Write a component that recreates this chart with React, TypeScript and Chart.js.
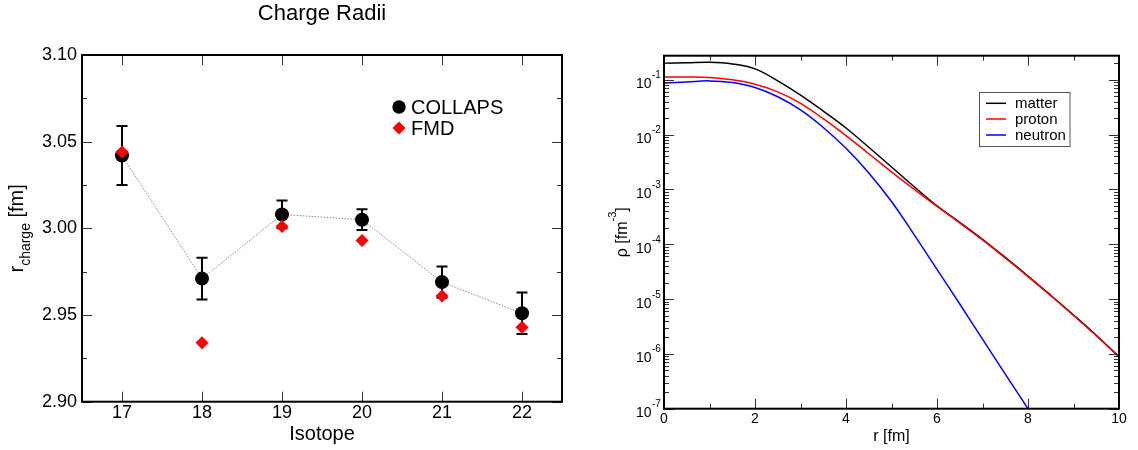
import React, { useEffect, useRef } from 'react';
import { Chart, registerables } from 'chart.js';

Chart.register(...registerables);

const FONT = "'Liberation Sans', Arial, Helvetica, sans-serif";

// ---- Left panel data: charge radii ----
const isotopes = [17, 18, 19, 20, 21, 22];
const collapsRadii = [3.042, 2.971, 3.008, 3.005, 2.969, 2.951];
const collapsErrors = [0.017, 0.012, 0.008, 0.006, 0.009, 0.012];
const fmdRadii = [3.044, 2.934, 3.001, 2.993, 2.961, 2.943];
const radiusTicks = [2.9, 2.95, 3.0, 3.05, 3.1];
const radiusMinorTicks = [2.925, 2.975, 3.025, 3.075];

// ---- Right panel data: densities ----
const rValues = [0, 0.5, 1, 1.5, 2, 2.5, 3, 3.5, 4, 4.5, 5, 5.5, 6, 6.5, 7, 7.5, 8, 8.5, 9, 9.5, 10];
const matterDensity = [0.2, 0.204, 0.209, 0.195, 0.158, 0.0955, 0.0525, 0.0269, 0.0132, 5.89e-3, 2.57e-3, 1.12e-3, 5.01e-4, 2.51e-4, 1.23e-4, 5.75e-5, 2.63e-5, 1.17e-5, 5.13e-6, 2.19e-6, 8.9e-7];
const protonDensity = [0.112, 0.112, 0.11, 0.1, 0.0832, 0.0603, 0.0372, 0.0195, 9.55e-3, 4.47e-3, 2.09e-3, 1.0e-3, 4.9e-4, 2.45e-4, 1.2e-4, 5.62e-5, 2.57e-5, 1.15e-5, 5.01e-6, 2.14e-6, 8.7e-7];
const neutronDensity = [0.0871, 0.0912, 0.0955, 0.0891, 0.0724, 0.049, 0.0282, 0.0135, 5.62e-3, 2.0e-3, 6.03e-4, 1.48e-4, 3.47e-5, 8.13e-6, 1.86e-6, 4.27e-7, 1.0e-7];
const decades = [-7, -6, -5, -4, -3, -2, -1];
const rMajorTicks = [0, 2, 4, 6, 8, 10];
const rMinorTicks = [1, 3, 5, 7, 9];

function drawFrame(ctx: CanvasRenderingContext2D, a: any) {
  ctx.save();
  ctx.strokeStyle = '#000';
  ctx.lineWidth = 2;
  ctx.strokeRect(a.left, a.top, a.right - a.left, a.bottom - a.top);
  ctx.restore();
}

function yTick(ctx: CanvasRenderingContext2D, a: any, py: number, len: number) {
  const y = Math.round(py) + 0.5;
  ctx.moveTo(a.left, y); ctx.lineTo(a.left + len, y);
  ctx.moveTo(a.right, y); ctx.lineTo(a.right - len, y);
}

function xTick(ctx: CanvasRenderingContext2D, a: any, px: number, len: number) {
  const x = Math.round(px) + 0.5;
  ctx.moveTo(x, a.top); ctx.lineTo(x, a.top + len);
  ctx.moveTo(x, a.bottom); ctx.lineTo(x, a.bottom - len);
}

const leftPlugin = {
  id: 'leftDecor',
  beforeDatasetsDraw(chart: any) {
    const { ctx, scales } = chart;
    const xs = scales.x, ys = scales.y;
    ctx.save();
    ctx.strokeStyle = '#000';
    ctx.lineWidth = 2;
    ctx.beginPath();
    isotopes.forEach((iso, i) => {
      const x = xs.getPixelForValue(iso);
      const yt = ys.getPixelForValue(collapsRadii[i] + collapsErrors[i]);
      const yb = ys.getPixelForValue(collapsRadii[i] - collapsErrors[i]);
      ctx.moveTo(x, yt); ctx.lineTo(x, yb);
      ctx.moveTo(x - 5.5, yt); ctx.lineTo(x + 5.5, yt);
      ctx.moveTo(x - 5.5, yb); ctx.lineTo(x + 5.5, yb);
    });
    ctx.stroke();
    ctx.restore();
  },
  afterDraw(chart: any) {
    const { ctx, scales, chartArea: a } = chart;
    const xs = scales.x, ys = scales.y;
    ctx.save();
    ctx.strokeStyle = '#333';
    ctx.lineWidth = 1;
    ctx.beginPath();
    radiusTicks.forEach(v => yTick(ctx, a, ys.getPixelForValue(v), 10));
    radiusMinorTicks.forEach(v => yTick(ctx, a, ys.getPixelForValue(v), 5));
    isotopes.forEach(v => xTick(ctx, a, xs.getPixelForValue(v), 10));
    ctx.stroke();
    ctx.restore();
    drawFrame(ctx, a);

    ctx.save();
    ctx.fillStyle = '#000';
    ctx.font = `22px ${FONT}`;
    ctx.textAlign = 'center';
    ctx.textBaseline = 'middle';
    ctx.fillText('Charge Radii', (a.left + a.right) / 2, 14);

    ctx.translate(22.7, (a.top + a.bottom) / 2);
    ctx.rotate(-Math.PI / 2);
    ctx.textAlign = 'left';
    ctx.textBaseline = 'alphabetic';
    const mainFont = `20px ${FONT}`, subFont = `14px ${FONT}`;
    ctx.font = mainFont; const w1 = ctx.measureText('r').width; const w3 = ctx.measureText(' [fm]').width;
    ctx.font = subFont; const w2 = ctx.measureText('charge').width;
    let x0 = -(w1 + w2 + w3) / 2;
    ctx.font = mainFont; ctx.fillText('r', x0, 0); x0 += w1;
    ctx.font = subFont; ctx.fillText('charge', x0, 6.8); x0 += w2;
    ctx.font = mainFont; ctx.fillText(' [fm]', x0, 0);
    ctx.restore();

    ctx.save();
    ctx.fillStyle = '#000';
    ctx.beginPath();
    ctx.arc(399, 107, 6.7, 0, Math.PI * 2);
    ctx.fill();
    ctx.fillStyle = '#ff0000';
    ctx.beginPath();
    ctx.moveTo(399, 121.5); ctx.lineTo(405.5, 128); ctx.lineTo(399, 134.5); ctx.lineTo(392.5, 128);
    ctx.closePath();
    ctx.fill();
    ctx.fillStyle = '#000';
    ctx.font = `20px ${FONT}`;
    ctx.textAlign = 'left';
    ctx.textBaseline = 'middle';
    const ds = chart.data.datasets;
    ctx.fillText(ds[1].label, 411, 108);
    ctx.fillText(ds[0].label, 411, 129);
    ctx.restore();
  }
};

const rightPlugin = {
  id: 'rightDecor',
  afterDraw(chart: any) {
    const { ctx, scales, chartArea: a } = chart;
    const xs = scales.x, ys = scales.y;
    const ymax = ys.max;
    ctx.save();
    ctx.strokeStyle = '#333';
    ctx.lineWidth = 1;
    ctx.beginPath();
    decades.forEach(d => {
      yTick(ctx, a, ys.getPixelForValue(Math.pow(10, d)), 10);
      for (let m = 2; m <= 9; m++) {
        const v = m * Math.pow(10, d);
        if (v <= ymax) yTick(ctx, a, ys.getPixelForValue(v), 5);
      }
    });
    rMajorTicks.forEach(v => xTick(ctx, a, xs.getPixelForValue(v), 10));
    rMinorTicks.forEach(v => xTick(ctx, a, xs.getPixelForValue(v), 5));
    ctx.stroke();
    ctx.restore();
    drawFrame(ctx, a);

    ctx.save();
    ctx.fillStyle = '#000';
    ctx.textBaseline = 'alphabetic';
    decades.forEach(d => {
      const y = ys.getPixelForValue(Math.pow(10, d));
      ctx.font = `14px ${FONT}`;
      ctx.textAlign = 'right';
      ctx.fillText('10', 71.5, y + 8.5);
      ctx.font = `10px ${FONT}`;
      ctx.textAlign = 'left';
      ctx.fillText(String(d), 72, y - 1.5);
    });

    ctx.translate(46.5, (a.top + a.bottom) / 2);
    ctx.rotate(-Math.PI / 2);
    const mainFont = `16px ${FONT}`, supFont = `11px ${FONT}`;
    ctx.font = mainFont; const w1 = ctx.measureText('ρ [fm').width; const w3 = ctx.measureText(']').width;
    ctx.font = supFont; const w2 = ctx.measureText('-3').width;
    let x0 = -(w1 + w2 + w3) / 2;
    ctx.font = mainFont; ctx.fillText('ρ [fm', x0, 0); x0 += w1;
    ctx.font = supFont; ctx.fillText('-3', x0, -11); x0 += w2;
    ctx.font = mainFont; ctx.fillText(']', x0, 0);
    ctx.restore();

    ctx.save();
    ctx.strokeStyle = '#555';
    ctx.lineWidth = 1;
    ctx.strokeRect(399.5, 92.5, 90.5, 54);
    const rows = [103.3, 119, 135];
    ctx.font = `15px ${FONT}`;
    ctx.textAlign = 'left';
    ctx.textBaseline = 'middle';
    chart.data.datasets.forEach((ds: any, i: number) => {
      ctx.strokeStyle = ds.borderColor;
      ctx.lineWidth = 1.5;
      ctx.beginPath();
      ctx.moveTo(406, rows[i]); ctx.lineTo(426, rows[i]);
      ctx.stroke();
      ctx.fillStyle = '#000';
      ctx.fillText(ds.label, 435, rows[i] + 0.5);
    });
    ctx.restore();
  }
};

function LeftChart() {
  const ref = useRef<HTMLCanvasElement>(null);
  useEffect(() => {
    const chart = new Chart(ref.current as HTMLCanvasElement, {
      type: 'scatter',
      data: {
        datasets: [
          {
            label: 'FMD',
            data: isotopes.map((x, i) => ({ x, y: fmdRadii[i] })),
            pointStyle: 'rectRot',
            pointRadius: 6.5,
            backgroundColor: '#ff0000',
            borderColor: '#ff0000',
            borderWidth: 0,
            showLine: false,
            order: 0,
          },
          {
            label: 'COLLAPS',
            data: isotopes.map((x, i) => ({ x, y: collapsRadii[i] })),
            pointStyle: 'circle',
            pointRadius: 7,
            pointBackgroundColor: '#000',
            pointBorderWidth: 0,
            borderColor: '#888',
            borderWidth: 1,
            borderDash: [1.5, 1.5],
            showLine: true,
            order: 1,
          },
        ],
      },
      options: {
        animation: false,
        responsive: false,
        events: [],
        layout: { padding: { top: 55, right: 18, left: 0, bottom: 0 } },
        plugins: { legend: { display: false }, tooltip: { enabled: false }, title: { display: false } },
        scales: {
          x: {
            type: 'linear',
            min: 16.5,
            max: 22.5,
            afterBuildTicks: (s: any) => { s.ticks = isotopes.map(v => ({ value: v })); },
            afterFit: (s: any) => { s.height = 48.3; },
            grid: { display: false, drawTicks: false },
            border: { display: false },
            ticks: { color: '#000', font: { family: FONT, size: 18 }, padding: 1, maxRotation: 0 },
            title: { display: true, text: 'Isotope', color: '#000', font: { family: FONT, size: 20 }, padding: { top: 0, bottom: 4 } },
          },
          y: {
            type: 'linear',
            min: 2.9,
            max: 3.1,
            afterBuildTicks: (s: any) => { s.ticks = radiusTicks.map(v => ({ value: v })); },
            afterFit: (s: any) => { s.width = 82; },
            grid: { display: false, drawTicks: false },
            border: { display: false },
            ticks: { color: '#000', font: { family: FONT, size: 18 }, padding: 5, callback: (v: any) => Number(v).toFixed(2) },
          },
        },
      },
      plugins: [leftPlugin],
    } as any);
    return () => chart.destroy();
  }, []);
  return <canvas ref={ref} width={580} height={450} style={{ position: 'absolute', left: 0, top: 0 }} />;
}

function RightChart() {
  const ref = useRef<HTMLCanvasElement>(null);
  useEffect(() => {
    const line = (label: string, ys: number[], color: string, order: number) => ({
      label,
      data: ys.map((y, i) => ({ x: rValues[i], y })),
      borderColor: color,
      backgroundColor: color,
      borderWidth: 1.5,
      pointRadius: 0,
      tension: 0.4,
      fill: false,
      order,
    });
    const chart = new Chart(ref.current as HTMLCanvasElement, {
      type: 'line',
      data: {
        datasets: [
          line('matter', matterDensity, '#000000', 1),
          line('proton', protonDensity, '#ff0000', 0),
          line('neutron', neutronDensity, '#0000ff', 2),
        ],
      },
      options: {
        animation: false,
        responsive: false,
        events: [],
        layout: { padding: { top: 55.7, right: 19, left: 0, bottom: 0 } },
        plugins: { legend: { display: false }, tooltip: { enabled: false }, title: { display: false } },
        scales: {
          x: {
            type: 'linear',
            min: 0,
            max: 10,
            afterBuildTicks: (s: any) => { s.ticks = rMajorTicks.map(v => ({ value: v })); },
            afterFit: (s: any) => { s.height = 41.3; },
            grid: { display: false, drawTicks: false },
            border: { display: false },
            ticks: { color: '#000', font: { family: FONT, size: 14 }, padding: 2, maxRotation: 0 },
            title: { display: true, text: 'r [fm]', color: '#000', font: { family: FONT, size: 16 }, padding: { top: 0, bottom: 3.4 } },
          },
          y: {
            type: 'logarithmic',
            min: 1e-7,
            max: 0.275,
            afterFit: (s: any) => { s.width = 84; },
            grid: { display: false, drawTicks: false },
            border: { display: false },
            ticks: { display: false },
          },
        },
      },
      plugins: [rightPlugin],
    } as any);
    return () => chart.destroy();
  }, []);
  return <canvas ref={ref} width={558} height={450} style={{ position: 'absolute', left: 580, top: 0 }} />;
}

export default function App() {
  return (
    <div style={{ position: 'absolute', left: 0, top: 0, width: 1138, height: 450, background: '#fff' }}>
      <LeftChart />
      <RightChart />
    </div>
  );
}
